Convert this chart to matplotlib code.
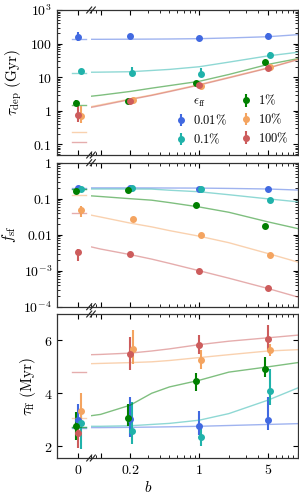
import matplotlib
matplotlib.use('Agg')
import matplotlib.pyplot as plt
from matplotlib.ticker import FixedLocator, FuncFormatter, LogLocator, NullFormatter
from matplotlib.lines import Line2D

plt.rcParams['mathtext.fontset'] = 'cm'
plt.rcParams['font.family'] = 'serif'
plt.rcParams['axes.edgecolor'] = '#333333'
plt.rcParams['axes.linewidth'] = 0.9

# ---- data ----
b_pts = [0.2, 1, 5]                      # b values of the runs (plus b=0)
b_model = [0.08, 0.1, 0.2, 0.33, 0.5, 1, 2, 5, 10]
labels = ['0.01', '0.1', '1', '10', '100']
colors = ['#4169E1', '#20B2AA', '#008000', '#F4A460', '#CD5C5C']

# tau_dep (Gyr): values at [b=0, 0.2, 1, 5], lower and upper error ends
tdep = [[160, 165, 148, 172], [15, 13.3, 12.6, 47], [1.7, 1.9, 6.9, 29],
        [0.69, 2.1, 5.6, 20], [0.75, 1.9, 6.0, 19]]
tdep_lo = [[120, 150, 140, 155], [12.8, 11.7, 11, 40], [1.45, 1.75, 6.4, 27],
           [0.43, 1.9, 5.2, 18.5], [0.47, 1.75, 5.6, 17.8]]
tdep_hi = [[215, 185, 158, 210], [18, 20, 19, 55], [2.05, 2.05, 7.4, 31],
           [1.4, 2.3, 6.0, 21.5], [1.5, 2.05, 6.4, 20.3]]
tdep_b0 = [133, 13.5, 1.45, 0.24, 0.117]
tdep_m = [[134, 134, 135, 136, 137, 140, 147, 160, 184],
          [14, 14.1, 14.5, 15.8, 17, 20.4, 28, 43, 55],
          [2.7, 2.9, 3.75, 4.7, 5.6, 7.5, 12, 24, 35.5],
          [1.32, 1.5, 2.24, 2.95, 3.85, 6.0, 9.9, 19, 34],
          [1.25, 1.42, 2.15, 2.85, 3.7, 5.8, 9.5, 18.5, 33]]

# f_sf
fsf = [[0.2, 0.2, 0.19, 0.19], [0.19, 0.2, 0.19, 0.093], [0.166, 0.17, 0.066, 0.018],
       [0.048, 0.028, 0.0097, 0.0028], [0.0033, 0.003, 0.001, 0.00033]]
fsf_lo = [[0.18, 0.19, 0.18, 0.18], [0.175, 0.19, 0.18, 0.088], [0.15, 0.16, 0.062, 0.017],
          [0.031, 0.026, 0.0092, 0.0026], [0.0019, 0.0028, 0.00095, 0.00031]]
fsf_hi = [[0.23, 0.21, 0.2, 0.2], [0.21, 0.21, 0.2, 0.099], [0.18, 0.18, 0.07, 0.019],
          [0.064, 0.03, 0.0102, 0.003], [0.0039, 0.0032, 0.00105, 0.00035]]
fsf_b0 = [0.2, 0.19, 0.185, 0.126, 0.04]
fsf_m = [[0.2, 0.2, 0.2, 0.199, 0.198, 0.197, 0.193, 0.186, 0.174],
         [0.186, 0.186, 0.186, 0.185, 0.172, 0.156, 0.129, 0.099, 0.082],
         [0.12, 0.115, 0.1, 0.091, 0.078, 0.059, 0.042, 0.0227, 0.0148],
         [0.035, 0.031, 0.021, 0.0165, 0.013, 0.0091, 0.006, 0.003, 0.00174],
         [0.0046, 0.004, 0.0028, 0.0021, 0.0016, 0.001, 0.00062, 0.00032, 0.000186]]

# tau_ff (Myr)
tff = [[2.98, 3.02, 2.75, 3.0], [2.88, 2.57, 2.33, 4.09], [2.75, 3.05, 4.45, 4.93],
       [3.33, 5.69, 5.27, 5.62], [2.5, 5.5, 5.81, 6.06]]
tff_lo = [[2.42, 2.35, 2.41, 2.62], [1.88, 2.08, 2.0, 3.55], [2.23, 2.75, 4.08, 4.61],
          [2.73, 5.12, 4.9, 5.4], [1.91, 4.87, 5.5, 5.62]]
tff_hi = [[3.61, 3.84, 3.32, 3.85], [3.17, 3.67, 2.71, 4.93], [3.29, 3.58, 4.78, 5.37],
          [4.0, 6.38, 5.62, 5.85], [2.98, 6.12, 6.19, 6.6]]
tff_b0 = [2.7, 2.73, 2.73, 3.08, 4.8]
tff_m = [[2.7, 2.7, 2.71, 2.72, 2.73, 2.75, 2.78, 2.82, 2.85],
         [2.75, 2.75, 2.77, 2.82, 2.86, 2.98, 3.23, 3.74, 4.2],
         [3.15, 3.2, 3.55, 4.0, 4.24, 4.49, 4.8, 5.0, 5.16],
         [5.12, 5.13, 5.16, 5.19, 5.24, 5.35, 5.46, 5.6, 5.65],
         [5.46, 5.47, 5.52, 5.6, 5.68, 5.84, 5.97, 6.1, 6.2]]

# horizontal dodge of the points
dx0 = [0.0, 0.07, -0.07, 0.07, 0.0]        # additive, b=0 panel
dxr = [1.0, 1.05, 0.94, 1.055, 1.0]        # multiplicative, log panel

W, H = 299, 499
fig = plt.figure(figsize=(W / 100, H / 100), dpi=100)

rows = [(10, 155), (162.7, 306.7), (314, 458)]
xl0, xbrk, xr1 = 57, 91, 297.7


def logfmt(v, pos):
    table = {1e-4: r'$10^{-4}$', 1e-3: r'$10^{-3}$', 0.01: r'$0.01$', 0.1: r'$0.1$',
             1: r'$1$', 10: r'$10$', 100: r'$100$', 1000: r'$10^3$'}
    for k, s in table.items():
        if abs(v - k) < 1e-3 * k:
            return s
    return ''


panels = [(tdep, tdep_lo, tdep_hi, tdep_b0, tdep_m, (0.048, 1000), True,
           r'$\tau_{\rm dep}\ (\rm Gyr)$'),
          (fsf, fsf_lo, fsf_hi, fsf_b0, fsf_m, (1e-4, 1), True, r'$f_{\rm sf}$'),
          (tff, tff_lo, tff_hi, tff_b0, tff_m, (1.55, 7), False,
           r'$\tau_{\rm ff}\ (\rm Myr)$')]

handles = []
for i, (vals, lo, hi, b0, mod, ylim, logy, ylab) in enumerate(panels):
    top, bot = rows[i]
    y0 = 1 - bot / H
    h = (bot - top) / H
    axl = fig.add_axes([xl0 / W, y0, (xbrk - xl0) / W, h])
    axr = fig.add_axes([xbrk / W, y0, (xr1 - xbrk) / W, h])

    for c in range(5):
        col = colors[c]
        # model at b=0 and for b>0
        axl.plot([-0.19, 0.23], [b0[c], b0[c]], color=col, lw=1, alpha=0.5)
        axr.plot(b_model, mod[c], color=col, lw=1, alpha=0.5)
        v = vals[c]
        el = [v[k] - lo[c][k] for k in range(4)]
        eh = [hi[c][k] - v[k] for k in range(4)]
        axl.errorbar([dx0[c]], [v[0]], yerr=[[el[0]], [eh[0]]], fmt='o', color=col,
                     ms=4, elinewidth=1.5, capsize=0)
        eb = axr.errorbar([b * dxr[c] for b in b_pts], v[1:], yerr=[el[1:], eh[1:]],
                          fmt='o', color=col, ms=4, elinewidth=1.5, capsize=0)
        if i == 0:
            handles.append(eb)

    for ax in (axl, axr):
        if logy:
            ax.set_yscale('log')
        ax.set_ylim(*ylim)
        ax.tick_params(which='both', direction='in', top=True, labelsize=10)
        ax.tick_params(which='major', length=3.5, width=0.8)
        ax.tick_params(which='minor', length=2, width=0.6)

    axl.set_xlim(-0.626, 0.374)
    axl.xaxis.set_major_locator(FixedLocator([0]))
    axl.spines['right'].set_visible(False)
    axl.tick_params(axis='y', right=False)
    axl.set_ylabel(ylab, fontsize=11, labelpad=4)

    axr.set_xscale('log')
    axr.set_xlim(0.08, 10)
    axr.xaxis.set_major_locator(FixedLocator([0.1, 0.2, 1, 5, 10]))
    axr.xaxis.set_minor_locator(LogLocator(base=10, subs=range(2, 10)))
    axr.xaxis.set_minor_formatter(NullFormatter())
    axr.spines['left'].set_visible(False)
    axr.tick_params(axis='y', which='both', left=False, right=True, labelleft=False)

    if logy:
        axl.yaxis.set_major_locator(LogLocator(base=10, numticks=10))
        axl.yaxis.set_minor_locator(LogLocator(base=10, subs=range(2, 10), numticks=20))
        axl.yaxis.set_major_formatter(FuncFormatter(logfmt))
        axl.yaxis.set_minor_formatter(NullFormatter())
        axr.yaxis.set_major_locator(LogLocator(base=10, numticks=10))
        axr.yaxis.set_minor_locator(LogLocator(base=10, subs=range(2, 10), numticks=20))
    else:
        axl.yaxis.set_major_locator(FixedLocator([2, 4, 6]))
        axr.yaxis.set_major_locator(FixedLocator([2, 4, 6]))
        axl.yaxis.set_major_formatter(FuncFormatter(lambda v, p: r'$%d$' % v))

    if i == 2:
        axl.xaxis.set_major_formatter(FuncFormatter(lambda v, p: r'$0$'))
        axr.xaxis.set_major_formatter(FuncFormatter(
            lambda v, p: {0.2: r'$0.2$', 1: r'$1$', 5: r'$5$'}.get(round(v, 3), '')))
        fig.text(148 / W, 1 - 488 / H, r'$b$', fontsize=11, ha='center', va='center')
    else:
        axl.tick_params(axis='x', labelbottom=False)
        axr.tick_params(axis='x', labelbottom=False)

    # break marks on top and bottom spines
    for yy in (top, bot):
        for off in (-1.8, 1.8):
            xc = xbrk + off
            fig.add_artist(Line2D([(xc - 2.5) / W, (xc + 2.5) / W],
                                  [1 - (yy + 3) / H, 1 - (yy - 3) / H],
                                  color='#222222', lw=0.8))

    if i == 0:
        blank = Line2D([], [], ls='none', marker='none')
        hs = [blank] + handles
        ls = [r'$\epsilon_{\rm ff}$'] + [r'$%s\%%$' % s for s in labels]
        axr.legend(hs, ls, ncol=2, frameon=False, loc='lower right', fontsize=9,
                   handlelength=1.0, handletextpad=0.5, columnspacing=1.0,
                   labelspacing=0.35, borderaxespad=0.3, bbox_to_anchor=(1.0, 0.0))

fig.savefig('out.png', dpi=100)
